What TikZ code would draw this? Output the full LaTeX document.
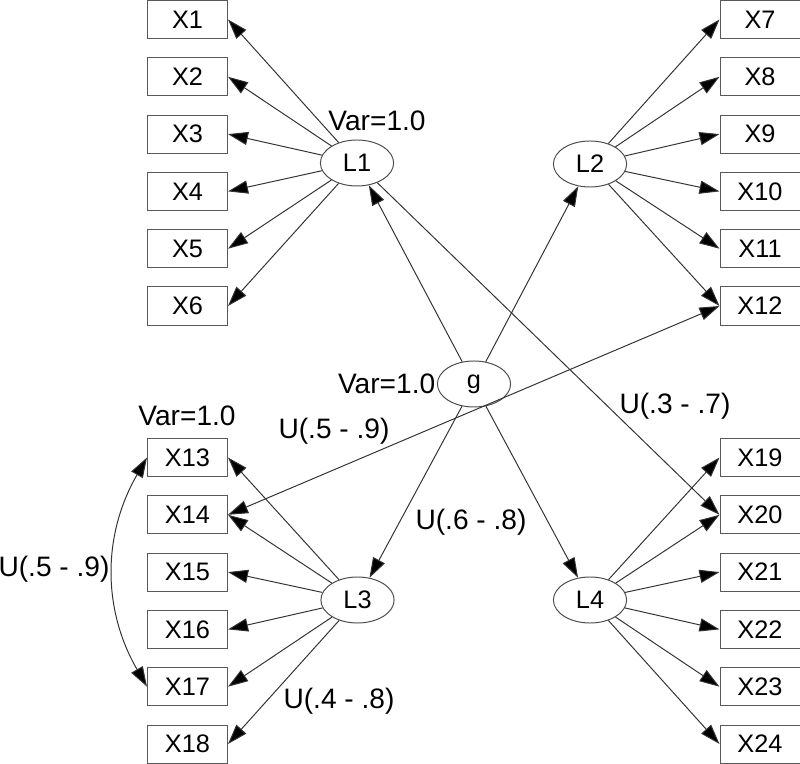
\documentclass[tikz,border=0pt]{standalone}
\usepackage{fontspec}
\setmainfont{Liberation Sans}
\usepackage{tikz}
\usetikzlibrary{positioning, arrows.meta, shapes.geometric}

\begin{document}
\begin{tikzpicture}[
    x=0.025cm, y=0.025cm,
    font=\fontsize{18}{21}\selectfont,
    obs/.style={draw=black!65, line width=0.7pt, rectangle, inner sep=0pt,
        minimum width=2.0cm, minimum height=0.95cm},
    lat/.style={draw=black!70, line width=0.7pt, ellipse, inner sep=0pt,
        minimum width=1.83cm, minimum height=1.15cm},
    load/.style={black!80, line width=0.7pt, -{Triangle[length=0.5cm, width=0.33cm, fill=black]}},
    cov/.style={black!80, line width=0.7pt, {Triangle[length=0.5cm, width=0.33cm, fill=black]}-{Triangle[length=0.5cm, width=0.33cm, fill=black]}},
    lab/.style={inner sep=1pt, font=\fontsize{20}{23}\selectfont}
]
\useasboundingbox (0,0) rectangle (800,763);

% latent factors
\node[lat] (g)  at (474,379) {g};
\node[lat] (L1) at (357,600) {L1};
\node[lat] (L2) at (590,599) {L2};
\node[lat] (L3) at (357.5,163) {L3};
\node[lat] (L4) at (590,163) {L4};

% indicators
\foreach \i in {1,...,6} {
    \pgfmathtruncatemacro{\na}{\i+6}
    \pgfmathtruncatemacro{\nb}{\i+12}
    \pgfmathtruncatemacro{\nc}{\i+18}
    \node[obs] (X\i)  at (187.5,{743.5-57.3*(\i-1)}) {X\i};
    \node[obs] (X\na) at (760,{743.5-57.3*(\i-1)}) {X\na};
    \node[obs] (X\nb) at (187.5,{305.5-57.3*(\i-1)}) {X\nb};
    \node[obs] (X\nc) at (760,{305.5-57.3*(\i-1)}) {X\nc};
    \draw[load] (L1) -- (X\i.east);
    \draw[load] (L2) -- (X\na.west);
    \draw[load] (L3) -- (X\nb.east);
    \draw[load] (L4) -- (X\nc.west);
}

% general factor
\foreach \f in {L1,L2,L3,L4} \draw[load] (g) -- (\f);

% cross loading and residual covariances
\draw[load] (L1) -- (X20.west);
\draw[cov] (X14.east) -- (X12.west);
\draw[cov] (X13.west) to[bend right=30] (X17.west);

% labels
\node[lab] (v1) at (377,642) {Var=1.0};
\node[lab, anchor=east] (v2) at (g.west) {Var=1.0};
\node[lab] (v3) at (187,347) {Var=1.0};
\node[lab] (u1) at (334,332) {U(.5 - .9)};
\node[lab] (u2) at (54,194) {U(.5 - .9)};
\node[lab] (u3) at (339,62) {U(.4 - .8)};
\node[lab] (u4) at (471,241) {U(.6 - .8)};
\node[lab] (u5) at (675,357) {U(.3 - .7)};

\end{tikzpicture}
\end{document}
